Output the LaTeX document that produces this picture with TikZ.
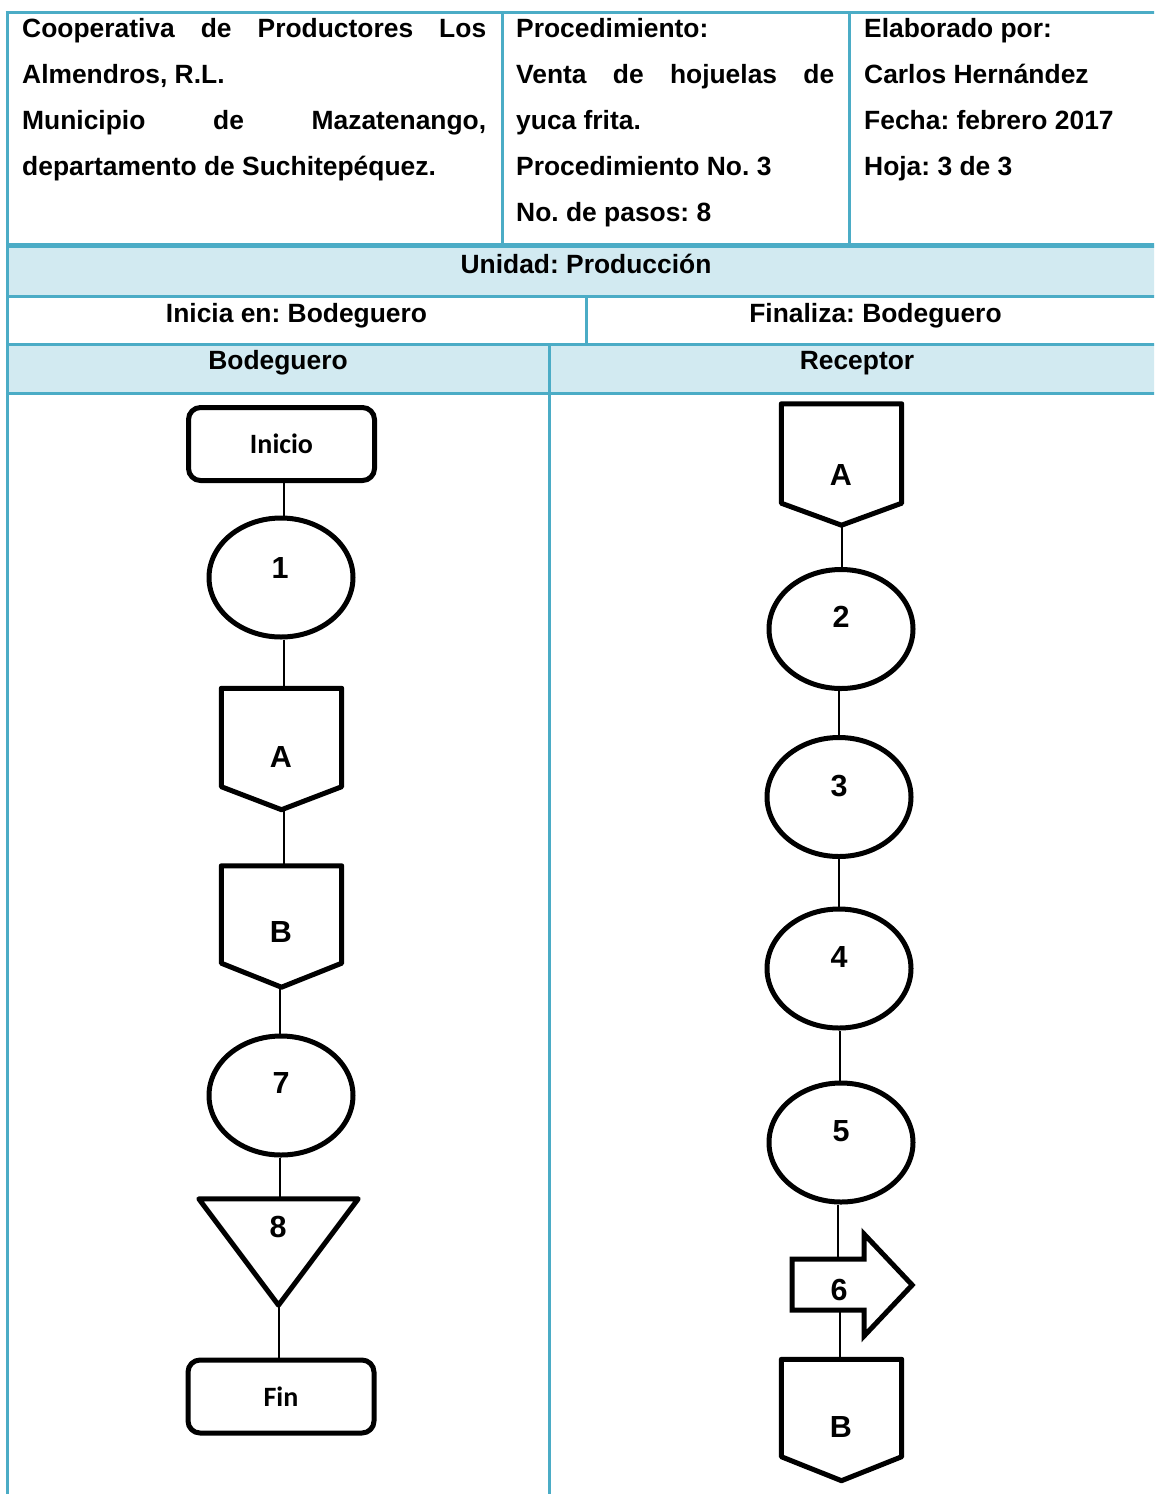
\documentclass[tikz,border=0pt]{standalone}
\usepackage{fontspec}
\setmainfont{Liberation Sans}
\newfontfamily\calibri{Carlito}
\usetikzlibrary{shapes.geometric,calc}
\frenchspacing

\definecolor{tblline}{HTML}{4BACC6}
\definecolor{tblfill}{HTML}{D2EAF1}

% outline of an off-page connector around an empty node
\newcommand\offpageoutline[2]{%
  \draw[shapeline,fill=white] (#1.north west) -- (#1.north east)
    -- ([yshift=#2]#1.south east) -- (#1.south)
    -- ([yshift=#2]#1.south west) -- cycle;}

\begin{document}
\begin{tikzpicture}[x=1pt,y=-1pt,
  grid/.style={draw=tblline,line width=3pt},
  gridthick/.style={draw=tblline,line width=5pt},
  hdr/.style={font=\fontsize{26.4}{30}\selectfont\bfseries,inner sep=0pt,anchor=base west},
  cell/.style={font=\fontsize{26.4}{30}\selectfont\bfseries,inner sep=0pt,anchor=base},
  shapeline/.style={draw=black,line width=5pt,line join=round},
  conn/.style={draw=black,line width=2pt},
  terminal/.style={shapeline,fill=white,rounded corners=12pt,minimum width=186pt,
    minimum height=73pt,inner sep=0pt,font=\calibri\fontsize{28}{32}\selectfont\bfseries},
  oper/.style={ellipse,shapeline,fill=white,minimum width=144pt,minimum height=119pt,inner sep=0pt},
  offpage/.style={minimum width=120pt,minimum height=121pt,inner sep=0pt},
  tag/.style={font=\fontsize{30.5}{34}\selectfont\bfseries,inner sep=0pt},
]
\useasboundingbox (0,0) rectangle (1154,1494);
\clip (0,0) rectangle (1154,1494);

% ---------- table ----------
\fill[tblfill] (7,245) rectangle (1165,296);
\fill[tblfill] (7,344) rectangle (1165,393);

\draw[grid] (5.5,12) -- (1165,12);
\draw[grid] (7,12) -- (7,1500);
\draw[grid] (502,12) -- (502,248);
\draw[grid] (849,12) -- (849,248);
\draw[gridthick] (7,245.5) -- (1165,245.5);
\draw[grid] (7,296) -- (1165,296);
\draw[grid] (586,296) -- (586,344);
\draw[grid] (7,344) -- (1165,344);
\draw[grid] (549,344) -- (549,1500);
\draw[grid] (7,393) -- (1165,393);

% header block
\node[hdr] (h1a) at (22,37)  {\hbox to 464pt{Cooperativa\hfill de\hfill Productores\hfill Los}};
\node[hdr] (h1b) at (22,83)  {Almendros, R.L.};
\node[hdr] (h1c) at (22,129) {\hbox to 464pt{Municipio\hfill de\hfill Mazatenango,}};
\node[hdr] (h1d) at (22,175) {departamento de Suchitepéquez.};

\node[hdr] (h2a) at (516,37)  {Procedimiento:};
\node[hdr] (h2b) at (516,83)  {\hbox to 318pt{Venta\hfill de\hfill hojuelas\hfill de}};
\node[hdr] (h2c) at (516,129) {yuca frita.};
\node[hdr] (h2d) at (516,175) {Procedimiento No. 3};
\node[hdr] (h2e) at (516,221) {No. de pasos: 8};

\node[hdr] (h3a) at (864,37)  {Elaborado por:};
\node[hdr] (h3b) at (864,83)  {Carlos Hernández};
\node[hdr] (h3c) at (864,129) {Fecha: febrero 2017};
\node[hdr] (h3d) at (864,175) {Hoja: 3 de 3};

\node[cell] (unidad) at (586,273) {Unidad: Producción};
\node[cell] (inicia) at (296.5,322) {Inicia en: Bodeguero};
\node[cell] (finaliza) at (875.5,322) {Finaliza: Bodeguero};
\node[cell] (colb) at (278,369) {Bodeguero};
\node[cell] (colr) at (857,369) {Receptor};

% ---------- Bodeguero lane ----------
\node[terminal] (ini) at (281.5,444) {Inicio};
\node[oper] (c1) at (281,577.5) {};
\node[offpage] (pa) at (281.5,749) {};
\node[offpage] (pb) at (281.5,926.5) {};
\node[oper] (c7) at (281,1095.5) {};
\node[minimum width=159pt,minimum height=106pt,inner sep=0pt] (tri) at (278.5,1252) {};
\node[terminal] (fin) at (281,1396.5) {Fin};

% ---------- Receptor lane ----------
\node[offpage] (ra) at (841.5,464.5) {};
\node[oper] (c2) at (841,629) {};
\node[oper] (c3) at (839,797) {};
\node[oper] (c4) at (839,968.5) {};
\node[oper] (c5) at (841,1142.5) {};
\node[minimum width=120pt,minimum height=102pt,inner sep=0pt] (a6) at (852,1285) {};
\coordinate (a6in) at (838,1259);
\coordinate (a6out) at (840,1310);
\node[offpage] (rb) at (841.5,1420) {};

% ---------- connectors ----------
\draw[conn] ([xshift=2.5pt]ini.south) -- ([xshift=2.5pt]ini.south |- c1.north);
\draw[conn] ([xshift=3pt]c1.south) -- ([xshift=3pt]c1.south |- pa.north);
\draw[conn] ([xshift=2.5pt]pa.south) -- ([xshift=2.5pt]pa.south |- pb.north);
\draw[conn] ([xshift=-1.5pt]pb.south) -- ([xshift=-1.5pt]pb.south |- c7.north);
\draw[conn] ([xshift=-1pt]c7.south) -- ([xshift=-1pt]c7.south |- tri.north);
\draw[conn] (tri.south) -- (tri.south |- fin.north);

\draw[conn] (ra.south) -- (ra.south |- c2.north);
\draw[conn] ([xshift=-2pt]c2.south) -- ([xshift=-2pt]c2.south |- c3.north);
\draw[conn] (c3.south) -- (c3.south |- c4.north);
\draw[conn] ([xshift=1pt]c4.south) -- ([xshift=1pt]c4.south |- c5.north);
\draw[conn] (c5.south -| a6in) -- (a6in);
\draw[conn] (a6out) -- (a6out |- rb.north);

% ---------- symbol outlines ----------
\offpageoutline{pa}{23pt}
\offpageoutline{pb}{24pt}
\offpageoutline{ra}{22pt}
\offpageoutline{rb}{24pt}
\draw[shapeline,fill=white] (tri.north west) -- (tri.north east) -- (tri.south) -- cycle;
\draw[shapeline,line join=miter,fill=white]
  (792,1259) -- (864,1259) -- (864,1234) -- (a6.east) -- (864,1336)
  -- (864,1310) -- (792,1310) -- cycle;

% ---------- symbol labels ----------
\node[tag] (t1) at (280,568) {1};
\node[tag] (tA1) at (281,757) {A};
\node[tag] (tB1) at (281,932) {B};
\node[tag] (t7) at (281,1083) {7};
\node[tag] (t8) at (278,1227) {8};

\node[tag] (tA2) at (841,475) {A};
\node[tag] (t2) at (841,617) {2};
\node[tag] (t3) at (839,786) {3};
\node[tag] (t4) at (839,957) {4};
\node[tag] (t5) at (841,1131) {5};
\node[tag] (t6) at (839,1290) {6};
\node[tag] (tB2) at (841,1427) {B};
\end{tikzpicture}
\end{document}
